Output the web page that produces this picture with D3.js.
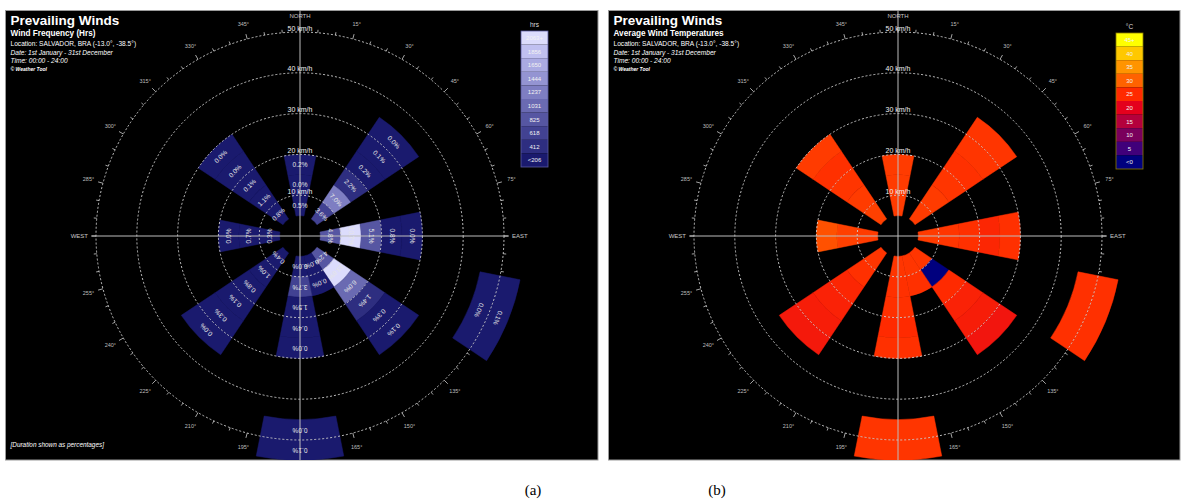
<!DOCTYPE html>
<html>
<head>
<meta charset="utf-8">
<script src="https://cdnjs.cloudflare.com/ajax/libs/d3/7.8.5/d3.min.js"></script>
<style>
  body { margin: 0; background: #fff; }
  svg { display: block; font-family: "Liberation Sans", Arial, sans-serif; }
</style>
</head>
<body>
<svg id="chart" width="1183" height="499"></svg>
<script>
// wind directions (compass degrees) and the 5 km/h speed bands that hold data
const directions = ["N", "NE", "E", "ESE", "SE", "SSE", "S", "SW", "W", "NW"];
const directionDeg = [0, 45, 90, 112.5, 135, 157.5, 180, 225, 270, 315];
const speedBands = [
  [5, 10, 15],
  [5, 10, 15, 20, 25, 30],
  [5, 10, 15, 20, 25],
  [45, 50],
  [5, 10, 15, 20, 25, 30],
  [5, 10],
  [5, 10, 15, 20, 25, 45, 50],
  [5, 10, 15, 20, 25, 30],
  [5, 10, 15],
  [5, 10, 15, 20, 25]
];
// duration shown as percentages (panel a)
const durationPct = [
  [0.5, 0.0, 0.2],
  [3.6, 7.0, 2.2, 0.2, 0.1, 0.0],
  [4.8, 10.7, 5.1, 0.8, 0.0],
  [0.0, 0.1],
  [4.2, 13.8, 6.0, 1.4, 0.3, 0.1],
  [0.0, 0.0],
  [0.0, 3.7, 1.5, 0.4, 0.0, 0.0, 0.1],
  [0.4, 1.0, 0.8, 0.1, 0.3, 0.0],
  [0.3, 0.7, 0.0],
  [0.8, 1.1, 0.1, 0.0, 0.0]
];
// hours, used for the colour of panel a
const durationHrs = [
  [110, 30, 50],
  [600, 1150, 400, 50, 30, 10],
  [780, 1880, 800, 150, 10],
  [10, 20],
  [700, 2100, 1000, 240, 60, 20],
  [10, 10],
  [20, 560, 190, 80, 10, 10, 20],
  [80, 180, 150, 30, 60, 10],
  [60, 130, 10],
  [150, 190, 30, 10, 10]
];
// average wind temperature in C (panel b)
const avgTemp = [
  [26.5, 26.5, 26.5],
  [26.5, 26.5, 26, 25.5, 26, 26],
  [26.5, 26, 25.5, 24.5, 25.5],
  [25.5, 25.5],
  [26, -1, 25, 24, 23.5, 22.5],
  [26, 25.5],
  [26, 25.5, 25.5, 25, 25.5, 26, 26],
  [26, 25.5, 24.5, 24, 23.5, 23],
  [26.5, 27, 28.5],
  [27, 26.5, 26, 25.5, 26.5]
];

const speedRings = [10, 20, 30, 40, 50];
const degreeLabels = [15, 30, 45, 60, 75, 105, 120, 135, 150, 165, 195, 210, 225, 240, 255, 285, 300, 315, 330, 345];

const hrsLegend = ["2063+", "1856", "1650", "1444", "1237", "1031", "825", "618", "412", "<206"];
const hrsThresholds = [206, 412, 618, 825, 1031, 1237, 1444, 1650, 1856];
const hrsColors = ["#1a1a6e", "#2e2e80", "#424292", "#5656a2", "#6a6ab2", "#7e7ec2", "#9494d2", "#aaaae2", "#c0c0f0", "#dcdcfc"];

const tempLegend = ["45+", "40", "35", "30", "25", "20", "15", "10", "5", "<0"];
const tempStops = [0, 5, 10, 15, 20, 25, 30, 35, 40, 45];
const tempColors = ["#00007e", "#40007a", "#7a005c", "#b4003c", "#e4001c", "#ff2a00", "#ff6200", "#ff9400", "#ffc800", "#ffff00"];

const svg = d3.select("#chart");
const hrsColor = d3.scaleThreshold().domain(hrsThresholds).range(hrsColors);
const tempColor = d3.scaleLinear().domain(tempStops).range(tempColors).clamp(true);

// flatten into segments
const segments = [];
directions.forEach((name, i) => {
  speedBands[i].forEach((from, j) => {
    segments.push({
      dir: directionDeg[i], from: from, to: from + 5,
      pct: durationPct[i][j], hrs: durationHrs[i][j], temp: avgTemp[i][j]
    });
  });
});

const rad = d => d * Math.PI / 180;

function drawPanel(p) {
  const r = d3.scaleLinear().domain([0, 50]).range([0, 204]);
  const g = svg.append("g");

  g.append("clipPath").attr("id", p.id + "-clip")
    .append("rect")
    .attr("x", p.x).attr("y", p.y).attr("width", p.w).attr("height", p.h);

  g.append("rect")
    .attr("x", p.x).attr("y", p.y).attr("width", p.w).attr("height", p.h)
    .attr("fill", "#000").attr("stroke", "#9a9a9a").attr("stroke-width", 1);

  const body = g.append("g").attr("clip-path", `url(#${p.id}-clip)`);
  const c = body.append("g").attr("transform", `translate(${p.cx},${p.cy})`);
  const R = r(50);

  // degree ticks and labels on the outer ring
  c.selectAll(".tick").data(d3.range(0, 360, 5)).enter().append("line")
    .attr("x1", d => R * Math.sin(rad(d)))
    .attr("y1", d => -R * Math.cos(rad(d)))
    .attr("x2", d => (R + (d % 15 === 0 ? 5 : 3)) * Math.sin(rad(d)))
    .attr("y2", d => -(R + (d % 15 === 0 ? 5 : 3)) * Math.cos(rad(d)))
    .attr("stroke", "#cfcfcf").attr("stroke-width", 0.8);

  c.selectAll(".deg").data(degreeLabels).enter().append("text")
    .attr("x", d => (R + 15) * Math.sin(rad(d)))
    .attr("y", d => -(R + 15) * Math.cos(rad(d)))
    .attr("dy", "0.35em")
    .attr("text-anchor", "middle")
    .attr("font-size", 5.5).attr("fill", "#bdbdbd")
    .text(d => d + "°");

  // bars
  const arc = d3.arc()
    .innerRadius(d => r(d.from))
    .outerRadius(d => r(d.to))
    .startAngle(d => rad(d.dir - 11.25))
    .endAngle(d => rad(d.dir + 11.25));

  c.selectAll(".seg").data(segments).enter().append("path")
    .attr("d", arc)
    .attr("fill", d => p.fill(d))
    .attr("stroke", d => p.fill(d))
    .attr("stroke-width", 0.5);

  // speed rings
  c.selectAll(".ring").data(speedRings).enter().append("circle")
    .attr("r", d => r(d))
    .attr("fill", "none")
    .attr("stroke", "#d4d4d4").attr("stroke-width", 0.9)
    .attr("stroke-dasharray", "2,2");

  // cross hair
  c.append("line").attr("x1", -R - 4).attr("x2", R + 4).attr("y1", 0).attr("y2", 0)
    .attr("stroke", "#bdbdbd").attr("stroke-width", 1);
  c.append("line").attr("x1", 0).attr("x2", 0).attr("y1", -R - 22).attr("y2", R + 30)
    .attr("stroke", "#bdbdbd").attr("stroke-width", 1);

  c.selectAll(".kmh").data(speedRings).enter().append("text")
    .attr("x", 0).attr("y", d => -r(d) - 1.5)
    .attr("text-anchor", "middle")
    .attr("font-size", 7).attr("fill", "#f0f0f0")
    .text(d => d + " km/h");

  c.append("text").attr("x", 0).attr("y", -R - 14)
    .attr("text-anchor", "middle").attr("font-size", 6).attr("fill", "#c8c8c8")
    .text("NORTH");
  c.append("text").attr("x", -R - 8).attr("y", 0).attr("dy", "0.35em")
    .attr("text-anchor", "end").attr("font-size", 6).attr("fill", "#c8c8c8")
    .text("WEST");
  c.append("text").attr("x", R + 8).attr("y", 0).attr("dy", "0.35em")
    .attr("text-anchor", "start").attr("font-size", 6).attr("fill", "#c8c8c8")
    .text("EAST");

  if (p.showPct) {
    c.selectAll(".pct").data(segments).enter().append("text")
      .attr("transform", d => {
        const rr = r(d.from + 2.5);
        return `translate(${rr * Math.sin(rad(d.dir))},${-rr * Math.cos(rad(d.dir))}) rotate(${d.dir})`;
      })
      .attr("dy", "0.35em")
      .attr("text-anchor", "middle")
      .attr("font-size", 6.5).attr("fill", "#e6e6e6")
      .text(d => d.pct.toFixed(1) + "%");
  }

  // titles
  const tx = p.x + 5;
  g.append("text").attr("x", tx).attr("y", p.y + 14.5)
    .attr("font-size", 13.5).attr("font-weight", "bold").attr("fill", "#fff")
    .text("Prevailing Winds");
  g.append("text").attr("x", tx).attr("y", p.y + 25.5)
    .attr("font-size", 8.2).attr("font-weight", "bold").attr("fill", "#fff")
    .text(p.subtitle);
  g.append("text").attr("x", tx).attr("y", p.y + 35)
    .attr("font-size", 6.6).attr("fill", "#fff")
    .text("Location: SALVADOR, BRA (-13.0°, -38.5°)");
  g.append("text").attr("x", tx).attr("y", p.y + 44)
    .attr("font-size", 6.6).attr("font-style", "italic").attr("fill", "#fff")
    .text("Date: 1st January - 31st December");
  g.append("text").attr("x", tx).attr("y", p.y + 52.5)
    .attr("font-size", 6.6).attr("font-style", "italic").attr("fill", "#fff")
    .text("Time: 00:00 - 24:00");
  g.append("text").attr("x", tx).attr("y", p.y + 60.5)
    .attr("font-size", 5).attr("font-style", "italic").attr("font-weight", "bold").attr("fill", "#fff")
    .text("© Weather Tool");

  if (p.note) {
    g.append("text").attr("x", tx).attr("y", p.y + p.h - 13)
      .attr("font-size", 6.4).attr("font-style", "italic").attr("fill", "#fff")
      .text(p.note);
  }

  // legend
  const lg = g.append("g").attr("transform", `translate(${p.lx},${p.ly})`);
  const cellH = 13.6, cellW = 27;
  const ly = d3.scaleBand().domain(p.legendLabels).range([0, cellH * p.legendLabels.length]);
  lg.append("text").attr("x", cellW / 2).attr("y", -4)
    .attr("text-anchor", "middle").attr("font-size", 6.5).attr("fill", "#ddd")
    .text(p.legendUnit);
  lg.selectAll("rect").data(p.legendLabels).enter().append("rect")
    .attr("x", 0).attr("y", d => ly(d))
    .attr("width", cellW).attr("height", ly.bandwidth())
    .attr("fill", (d, i) => p.legendColors[i]);
  lg.append("rect").attr("width", cellW).attr("height", cellH * p.legendLabels.length)
    .attr("fill", "none").attr("stroke", p.legendBorder).attr("stroke-width", 0.8);
  lg.selectAll(".ll").data(p.legendLabels).enter().append("text")
    .attr("x", cellW / 2).attr("y", d => ly(d) + ly.bandwidth() / 2)
    .attr("dy", "0.35em").attr("text-anchor", "middle")
    .attr("font-size", 6).attr("fill", "#f2f2f2")
    .text(d => d);
}

drawPanel({
  id: "freq", x: 5.5, y: 10.5, w: 592.5, h: 449.5, cx: 300, cy: 236,
  subtitle: "Wind Frequency (Hrs)",
  note: "[Duration shown as percentages]",
  showPct: true,
  fill: d => hrsColor(d.hrs),
  lx: 521, ly: 31, legendUnit: "hrs",
  legendLabels: hrsLegend,
  legendColors: hrsColors.slice().reverse(),
  legendBorder: "#5a5aa0"
});

drawPanel({
  id: "temp", x: 608.5, y: 10.5, w: 571.5, h: 449.5, cx: 898, cy: 236,
  subtitle: "Average Wind Temperatures",
  note: null,
  showPct: false,
  fill: d => tempColor(d.temp),
  lx: 1116, ly: 33, legendUnit: "°C",
  legendLabels: tempLegend,
  legendColors: tempStops.slice().reverse().map(t => tempColor(t)),
  legendBorder: "#8a7a00"
});

// panel captions
svg.append("text").attr("x", 533).attr("y", 495)
  .attr("text-anchor", "middle").attr("font-family", "Liberation Serif, serif")
  .attr("font-size", 15).attr("fill", "#000").text("(a)");
svg.append("text").attr("x", 717).attr("y", 495)
  .attr("text-anchor", "middle").attr("font-family", "Liberation Serif, serif")
  .attr("font-size", 15).attr("fill", "#000").text("(b)");
</script>
</body>
</html>
